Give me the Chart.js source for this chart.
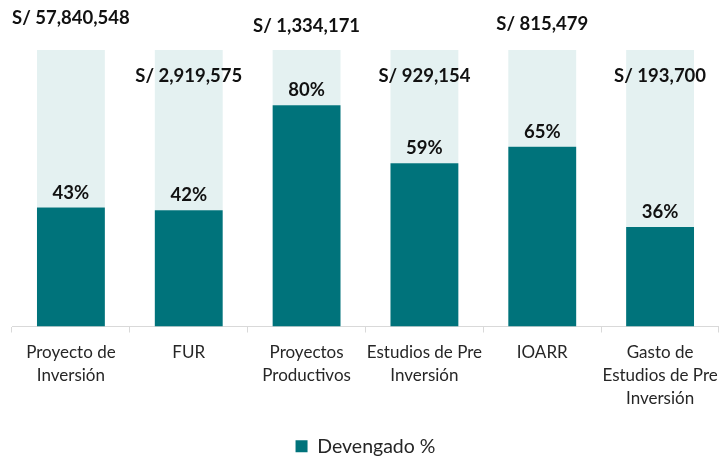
<!DOCTYPE html>
<html>
<head>
<meta charset="utf-8">
<script src="https://cdn.jsdelivr.net/npm/chart.js@4"></script>
<style>
  html, body { margin: 0; padding: 0; background: #fff; }
  #wrap { width: 719px; height: 459px; }
</style>
</head>
<body>
<div id="wrap"><canvas id="chart" width="719" height="459"></canvas></div>
<script>
const categories = [
    ['Proyecto de', 'Inversión'],
    'FUR',
    ['Proyectos', 'Productivos'],
    ['Estudios de Pre', 'Inversión'],
    'IOARR',
    ['Gasto de', 'Estudios de Pre', 'Inversión']
]
const devengadoPct = [43, 42, 80, 59, 65, 36]
const amounts = ['S/ 57,840,548', 'S/ 2,919,575', 'S/ 1,334,171', 'S/ 929,154', 'S/ 815,479', 'S/ 193,700']
const remainingPct = devengadoPct.map(v => 100 - v)

const TEAL = '#00737b'
const LIGHT = '#e4f1f1'
const FONT = 'Lato, "Open Sans", sans-serif'

// amount labels sit alternately above / inside the background bar
const amountLift = [32, -26, 24, -26, 26, -26]

const labelPlugin = {
    id: 'barLabels',
    afterDatasetsDraw(chart) {
        const ctx = chart.ctx
        const front = chart.getDatasetMeta(0).data
        const back = chart.getDatasetMeta(1).data
        ctx.save()
        ctx.fillStyle = '#111'
        ctx.textAlign = 'center'
        ctx.textBaseline = 'middle'
        ctx.font = 'bold 18.5px ' + FONT
        front.forEach((bar, i) => {
            ctx.fillText(devengadoPct[i] + '%', bar.x, bar.y - 15)
        })
        back.forEach((bar, i) => {
            ctx.fillText(amounts[i], bar.x, bar.y - amountLift[i])
        })
        ctx.restore()
    }
}

new Chart(document.getElementById('chart'), {
    type: 'bar',
    data: {
        labels: categories,
        datasets: [
            {
                label: 'Devengado %',
                data: devengadoPct,
                backgroundColor: TEAL,
                borderWidth: 0,
                categoryPercentage: 1,
                barPercentage: 0.576
            },
            {
                label: 'Resto',
                data: remainingPct,
                backgroundColor: LIGHT,
                borderWidth: 0,
                categoryPercentage: 1,
                barPercentage: 0.576
            }
        ]
    },
    options: {
        responsive: false,
        animation: false,
        // negative bottom padding pushes the legend row down to the canvas edge
        layout: { padding: { top: 50, left: 12, right: 0, bottom: -7 } },
        scales: {
            x: {
                stacked: true,
                afterFit: scale => {
                    scale.height = 104
                    // wide last label should not shrink the plot
                    scale.paddingLeft = 0
                    scale.paddingRight = 0
                },
                grid: { offset: true, drawOnChartArea: false, tickLength: 6, color: '#d9d9d9' },
                border: { color: '#d9d9d9' },
                ticks: {
                    color: '#262626',
                    font: { family: FONT, size: 17, lineHeight: 1.33 },
                    padding: 9,
                    maxRotation: 0,
                    autoSkip: false
                }
            },
            y: {
                stacked: true,
                min: 0,
                max: 100,
                display: false
            }
        },
        plugins: {
            legend: {
                position: 'bottom',
                labels: {
                    filter: item => item.datasetIndex === 0,
                    boxWidth: 12,
                    boxHeight: 12,
                    color: '#262626',
                    font: { family: FONT, size: 19.5 },
                    padding: 6
                }
            },
            tooltip: { enabled: false }
        }
    },
    plugins: [labelPlugin]
})
</script>
</body>
</html>
